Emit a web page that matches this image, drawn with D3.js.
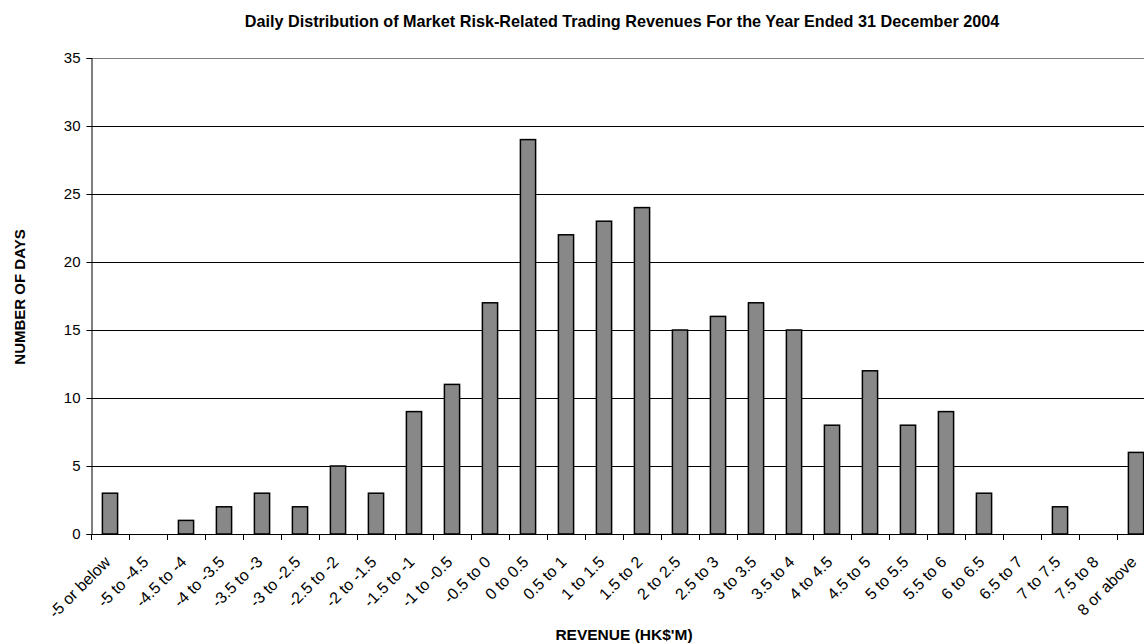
<!doctype html>
<html lang="en">
<head>
<meta charset="utf-8">
<title>Daily Distribution of Market Risk-Related Trading Revenues</title>
<script src="https://d3js.org/d3.v7.min.js"></script>
<style>
  html, body { margin: 0; padding: 0; background: #fff; overflow: hidden; }
  svg { display: block; font-family: Arial, "Liberation Sans", sans-serif; }
  .bar { fill: #888888; stroke: #000; stroke-width: 1.5px; }
</style>
</head>
<body>
<div id="chart"></div>
<script>
// revenue buckets (HK$ million)
var categories = ["-5 or below", "-5 to -4.5", "-4.5 to -4", "-4 to -3.5", "-3.5 to -3",
  "-3 to -2.5", "-2.5 to -2", "-2 to -1.5", "-1.5 to -1", "-1 to -0.5", "-0.5 to 0",
  "0 to 0.5", "0.5 to 1", "1 to 1.5", "1.5 to 2", "2 to 2.5", "2.5 to 3", "3 to 3.5",
  "3.5 to 4", "4 to 4.5", "4.5 to 5", "5 to 5.5", "5.5 to 6", "6 to 6.5", "6.5 to 7",
  "7 to 7.5", "7.5 to 8", "8 or above"];
// number of trading days in each bucket
var days = [3, 0, 1, 2, 3, 2, 5, 3, 9, 11, 17, 29, 22, 23, 24, 15, 16, 17, 15, 8, 12, 8, 9, 3, 0, 2, 0, 6];
var yTicks = [0, 5, 10, 15, 20, 25, 30, 35];

var chartTitle = "Daily Distribution of Market Risk-Related Trading Revenues For the Year Ended 31 December 2004";
var xTitle = "REVENUE (HK$'M)";
var yTitle = "NUMBER OF DAYS";

var data = categories.map(function (c, i) { return { cat: c, value: days[i] }; });

var W = 1144, H = 643;
// plot area runs a little past the right edge, as in the source picture
var plotL = 91, plotR = 91 + categories.length * 38, plotT = 58, plotB = 534;

var svg = d3.select("#chart").append("svg")
    .attr("width", W)
    .attr("height", H);

var x = d3.scaleBand()
    .domain(categories)
    .range([plotL, plotR])
    .paddingInner(0.6)
    .paddingOuter(0.3);

var y = d3.scaleLinear()
    .domain([0, 35])
    .range([plotB, plotT]);

// gridlines
svg.append("g")
  .selectAll("line")
  .data(yTicks.slice(1))
  .enter()
  .append("line")
    .attr("x1", plotL)
    .attr("x2", plotR)
    .attr("y1", function (d) { return Math.round(y(d)) + 0.5; })
    .attr("y2", function (d) { return Math.round(y(d)) + 0.5; })
    .attr("stroke", function (d) { return d === 35 ? "#808080" : "#000"; })
    .attr("stroke-width", 1);

// bars
svg.append("g")
  .selectAll("rect")
  .data(data)
  .enter()
  .append("rect")
    .attr("class", "bar")
    .attr("x", function (d) { return x(d.cat); })
    .attr("width", x.bandwidth())
    .attr("y", function (d) { return y(d.value); })
    .attr("height", function (d) { return y(0) - y(d.value); })
    .style("display", function (d) { return d.value > 0 ? null : "none"; });

// y axis
var yAxis = d3.axisLeft(y)
    .tickValues(yTicks)
    .tickSize(5)
    .tickPadding(6);

var gy = svg.append("g")
    .attr("transform", "translate(" + (plotL + 0.5) + ",0)")
    .call(yAxis);
gy.selectAll("path, line").attr("stroke", "#000");
gy.selectAll("text")
    .attr("font-size", "15px")
    .attr("fill", "#000")
    .attr("font-family", "Arial, 'Liberation Sans', sans-serif");

// x axis: line with ticks at the bucket boundaries
var step = x.step();
var gx = svg.append("g");
gx.append("line")
    .attr("x1", plotL)
    .attr("x2", plotR)
    .attr("y1", plotB + 0.5)
    .attr("y2", plotB + 0.5)
    .attr("stroke", "#000");
gx.selectAll("line.tick")
  .data(d3.range(categories.length + 1))
  .enter()
  .append("line")
    .attr("class", "tick")
    .attr("x1", function (i) { return Math.round(plotL + i * step) + 0.5; })
    .attr("x2", function (i) { return Math.round(plotL + i * step) + 0.5; })
    .attr("y1", plotB)
    .attr("y2", plotB + 6)
    .attr("stroke", "#000");

gx.selectAll("text")
  .data(categories)
  .enter()
  .append("text")
    .attr("transform", function (d) {
      return "translate(" + (x(d) + x.bandwidth() / 2 + 1.5) + "," + 563 + ") rotate(-45)";
    })
    .attr("text-anchor", "end")
    .attr("font-size", "16px")
    .attr("fill", "#000")
    .text(function (d) { return d; });

// titles
svg.append("text")
    .attr("x", 622)
    .attr("y", 27)
    .attr("text-anchor", "middle")
    .attr("font-size", "16.2px")
    .attr("font-weight", "bold")
    .text(chartTitle);

svg.append("text")
    .attr("x", 624)
    .attr("y", 640)
    .attr("text-anchor", "middle")
    .attr("font-size", "15.5px")
    .attr("font-weight", "bold")
    .text(xTitle);

svg.append("text")
    .attr("transform", "translate(25,297) rotate(-90)")
    .attr("text-anchor", "middle")
    .attr("font-size", "15px")
    .attr("font-weight", "bold")
    .text(yTitle);
</script>
</body>
</html>
